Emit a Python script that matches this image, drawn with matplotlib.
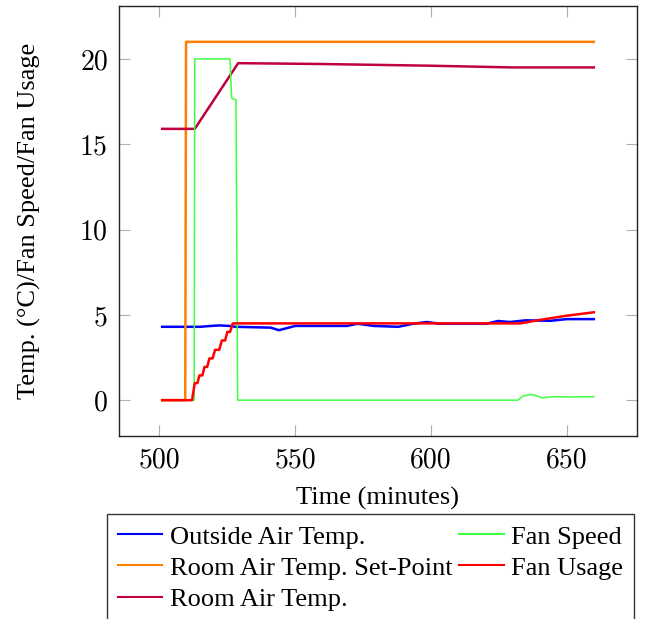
import matplotlib
matplotlib.use("Agg")
import matplotlib.pyplot as plt

# time (minutes) / value pairs
outside_t = [501, 515, 519, 522, 526, 528, 541, 544, 550, 569, 573, 579, 588,
             593.5, 598.5, 603, 620.5, 624.7, 629, 635, 644, 650, 660]
outside_v = [4.3, 4.3, 4.35, 4.38, 4.35, 4.3, 4.25, 4.1, 4.35, 4.35, 4.48, 4.35, 4.3,
             4.48, 4.58, 4.48, 4.48, 4.64, 4.58, 4.68, 4.65, 4.75, 4.75]

setpoint_t = [501, 509.5, 509.8, 660]
setpoint_v = [0, 0, 21, 21]

room_t = [501, 513, 529, 560, 600, 630, 660]
room_v = [15.9, 15.9, 19.75, 19.7, 19.6, 19.5, 19.5]

speed_t = [501, 512.8, 513, 526, 526.6, 528.2, 528.8, 632, 634, 637, 638.5, 641, 645, 650, 660]
speed_v = [0, 0, 20, 20, 17.7, 17.6, 0, 0, 0.25, 0.33, 0.28, 0.13, 0.21, 0.19, 0.2]

usage_t = [501, 512, 513, 514, 514.7, 515.8, 516.6, 517.6, 518.4, 519.6, 520.5,
           522, 523, 524.2, 525, 526, 527, 633, 640, 650, 660]
usage_v = [0, 0, 1.0, 1.0, 1.45, 1.45, 1.95, 1.95, 2.45, 2.45, 2.95,
           2.95, 3.5, 3.5, 4.0, 4.0, 4.5, 4.5, 4.7, 4.95, 5.15]

labels = ["Outside Air Temp.", "Room Air Temp. Set-Point", "Room Air Temp.",
          "Fan Speed", "Fan Usage"]

serif = ["Liberation Serif", "DejaVu Serif"]

fig = plt.figure(figsize=(6.48, 6.19), dpi=100)
ax = fig.add_axes([119 / 648, 1 - 436 / 619, 518 / 648, 430 / 619])

ax.plot(outside_t, outside_v, color="#0000ff", lw=1.8, label=labels[0])
ax.plot(setpoint_t, setpoint_v, color="#ff8000", lw=1.8, label=labels[1])
ax.plot(room_t, room_v, color="#bf0040", lw=1.8, label=labels[2])
ax.plot(speed_t, speed_v, color="#40ff40", lw=1.1, label=labels[3])
ax.plot(usage_t, usage_v, color="#ff0000", lw=1.8, label=labels[4])

ax.set_xlim(485.1, 675.9)
ax.set_ylim(-2.1, 23.1)
ax.set_xticks([500, 550, 600, 650])
ax.set_yticks([0, 5, 10, 15, 20])

ax.tick_params(direction="in", length=8, width=0.8, color="#b0b0b0",
               top=True, right=True, pad=8, labelsize=20)
for lab in ax.get_xticklabels() + ax.get_yticklabels():
    lab.set_family(["cmr10", "DejaVu Serif"])
for s in ax.spines.values():
    s.set_color("#222222")
    s.set_linewidth(1.0)

ax.set_xlabel("Time (minutes)", fontsize=19, family=serif, labelpad=10)
ax.set_ylabel("Temp. (°C)/Fan Speed/Fan Usage", fontsize=19, family=serif, labelpad=28)

leg = ax.legend(ncol=2, loc="upper center", bbox_to_anchor=(370.5 / 648, 1 - 514 / 619),
                bbox_transform=fig.transFigure, prop={"family": serif, "size": 19},
                frameon=True, fancybox=False, edgecolor="black", handlelength=1.7,
                handletextpad=0.27, columnspacing=0.27, borderpad=0.42, labelspacing=0.29,
                borderaxespad=0)
leg.get_frame().set_linewidth(1.0)
for h in leg.get_lines():
    h.set_linewidth(1.5)

fig.savefig("out.png", dpi=100)
